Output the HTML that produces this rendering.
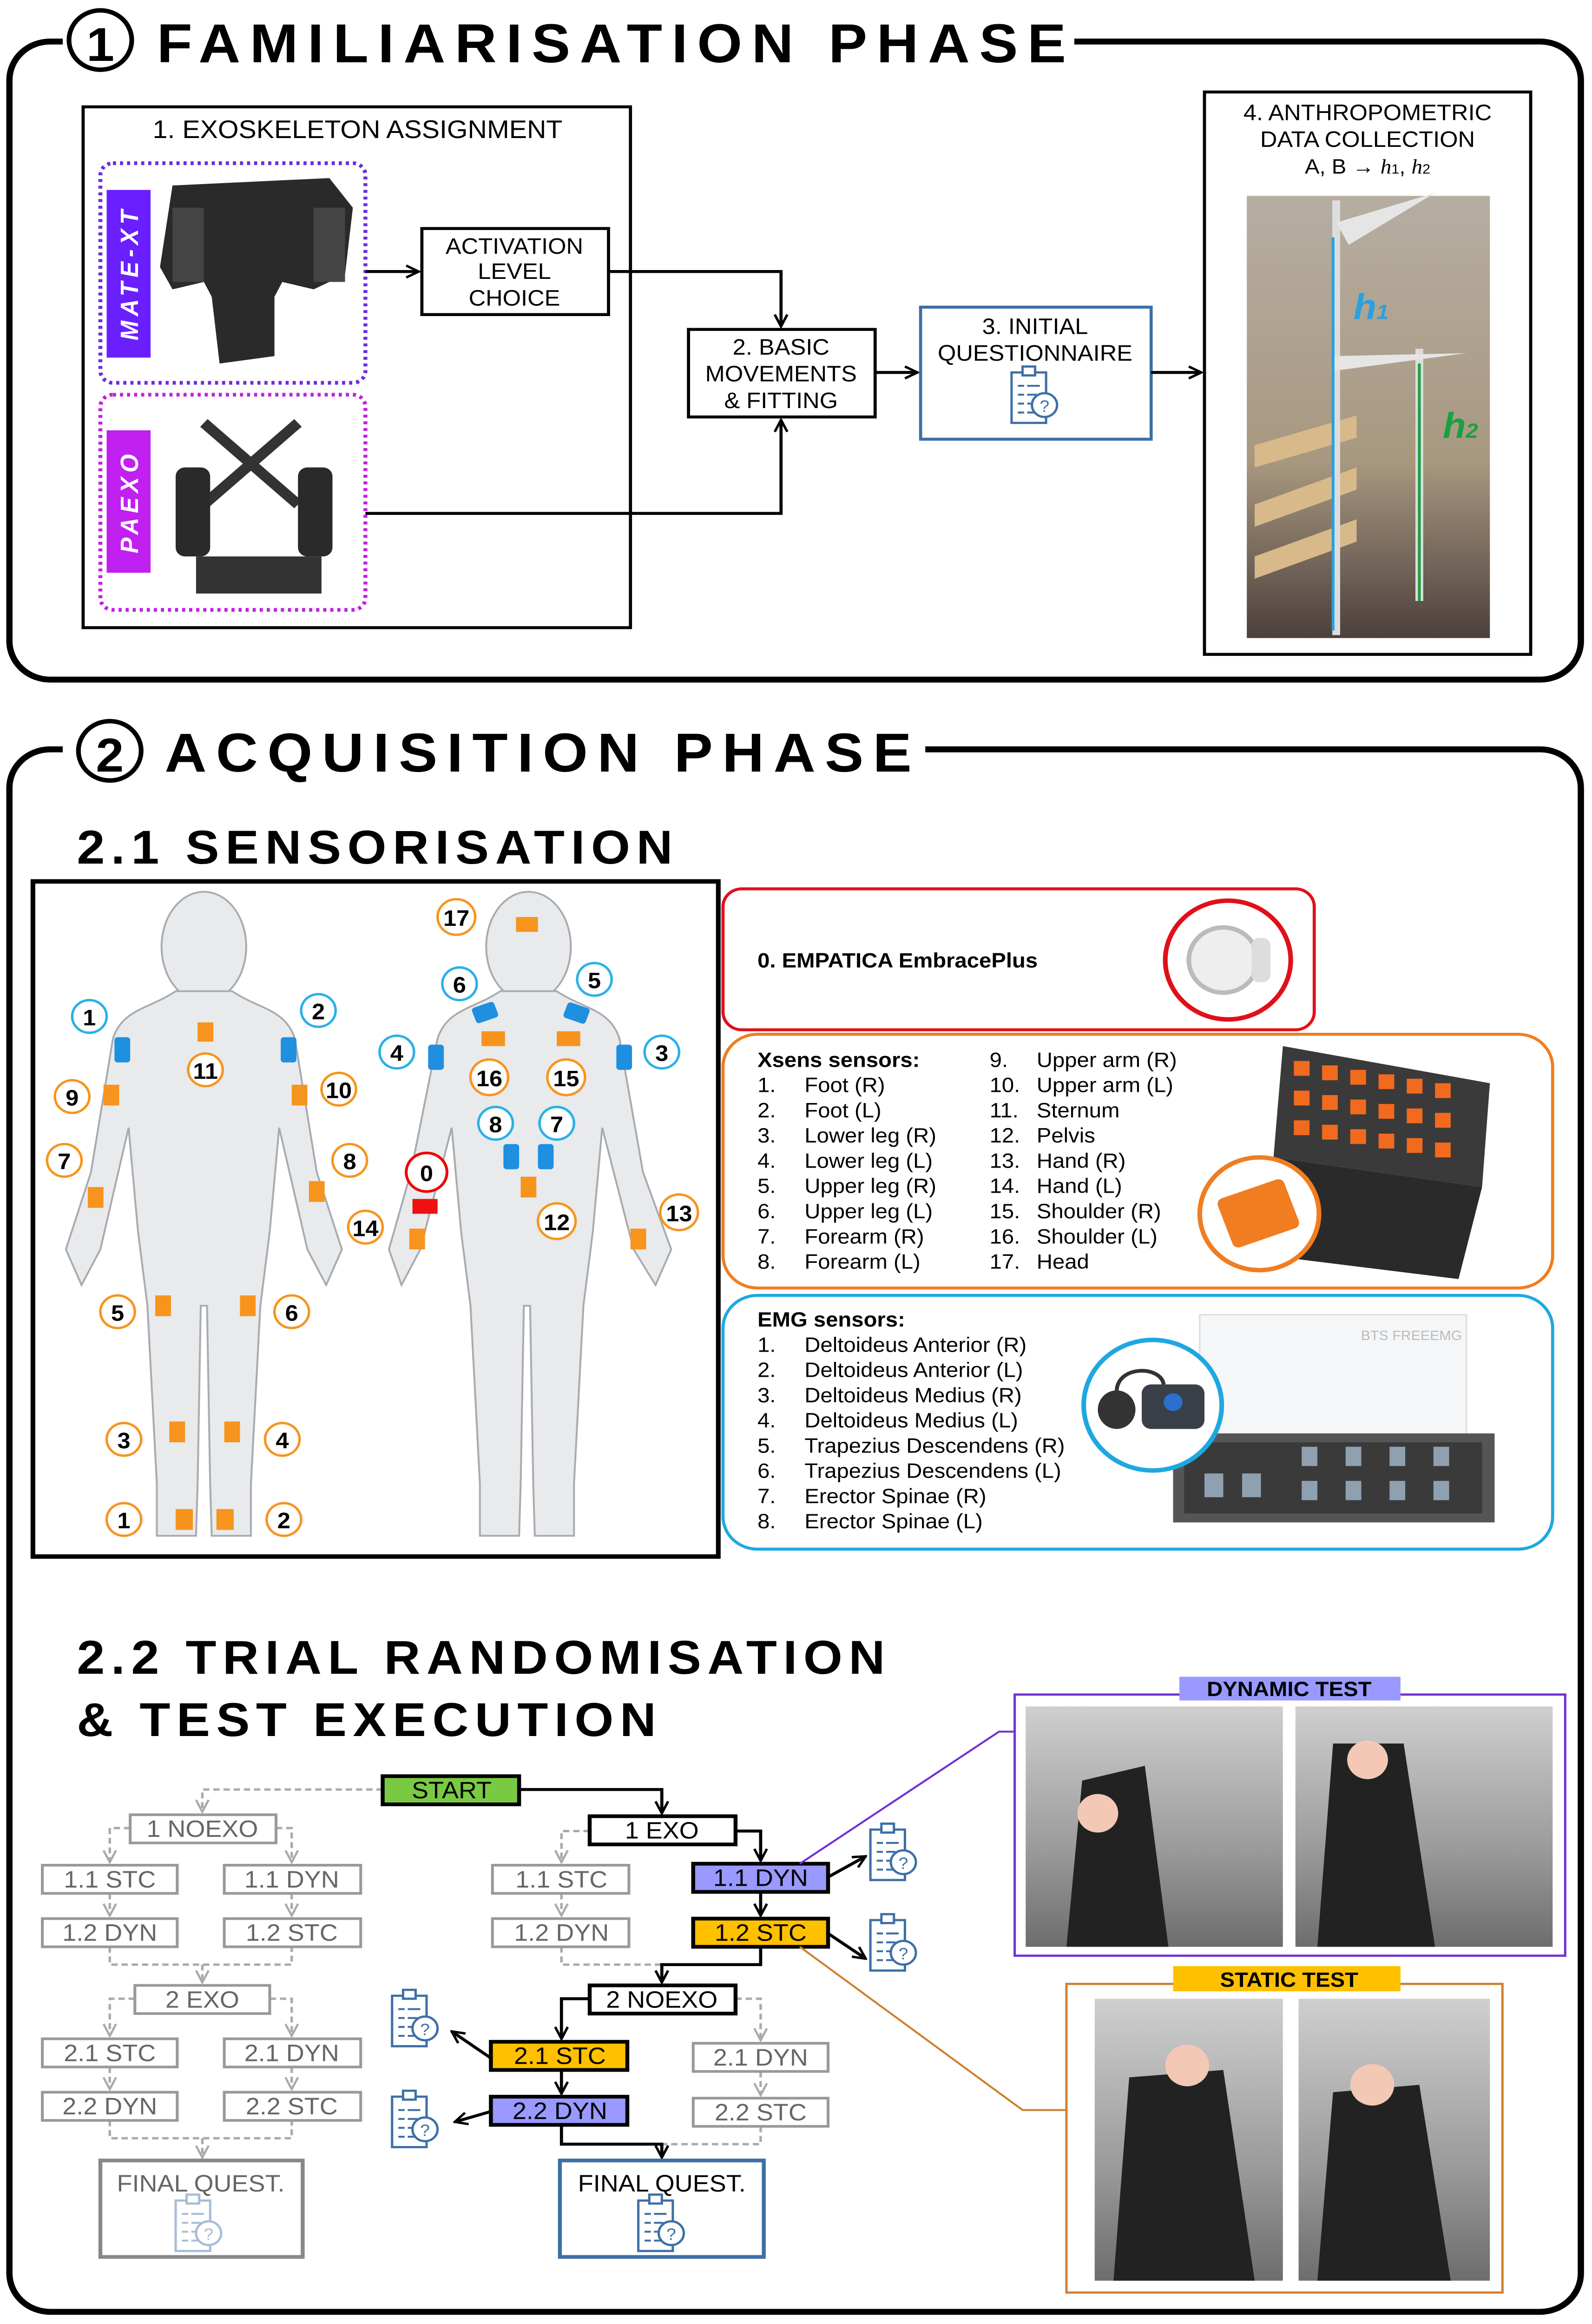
<!DOCTYPE html>
<html><head><meta charset="utf-8"><style>
html,body{margin:0;padding:0;background:#fff;width:100%;height:100%;overflow:hidden}
svg{display:block;position:absolute;left:0;top:0;width:100%;height:100%}
text{font-family:"Liberation Sans Narrow","Liberation Sans",sans-serif}
.t{font-family:"Liberation Sans",sans-serif;font-weight:bold}
</style></head><body>
<svg viewBox="0 0 1015.1 1566.2" preserveAspectRatio="none" xmlns="http://www.w3.org/2000/svg">
<defs>
<marker id="ab" markerWidth="10" markerHeight="10" refX="9" refY="5" orient="auto" markerUnits="userSpaceOnUse"><path d="M1,1 L9,5 L1,9" fill="none" stroke="#000" stroke-width="1.6"/></marker>
<marker id="ag" markerWidth="10" markerHeight="10" refX="9" refY="5" orient="auto" markerUnits="userSpaceOnUse"><path d="M1,1 L9,5 L1,9" fill="none" stroke="#aaa" stroke-width="1.4"/></marker>
<g id="clip">
<rect x="-13" y="-17" width="22" height="34" fill="#fff" stroke="#3d6fa6" stroke-width="1.5"/>
<rect x="-6" y="-21" width="8" height="6" fill="#fff" stroke="#3d6fa6" stroke-width="1.5"/>
<path d="M-9,-8h4M-3,-8h8M-9,-2h4M-3,-2h6M-9,4h4M-3,4h4M-9,10h4M-3,10h8" stroke="#3d6fa6" stroke-width="1.3"/>
<circle cx="8" cy="5" r="8" fill="#fff" stroke="#3d6fa6" stroke-width="1.5"/>
<text x="8" y="9.5" font-size="11" text-anchor="middle" fill="#3d6fa6">?</text>
</g>
<linearGradient id="ph" x1="0" y1="0" x2="0" y2="1"><stop offset="0" stop-color="#cfcfcf"/><stop offset="0.6" stop-color="#9a9a9a"/><stop offset="1" stop-color="#6d6d6d"/></linearGradient>
<linearGradient id="sh" x1="0" y1="0" x2="0" y2="1"><stop offset="0" stop-color="#b6ada2"/><stop offset="0.6" stop-color="#a89880"/><stop offset="1" stop-color="#4c403c"/></linearGradient>
</defs>

<rect x="6" y="28" width="1002" height="430" rx="26" fill="none" stroke="#000" stroke-width="4"/>
<rect x="40" y="4" width="645" height="46" fill="#fff"/>
<circle cx="64" cy="27" r="20" fill="#fff" stroke="#000" stroke-width="3"/>
<text x="64" y="41" class="t" font-size="32" text-anchor="middle">1</text>
<text x="100" y="42" class="t" font-size="37" letter-spacing="6">FAMILIARISATION PHASE</text>

<rect x="53" y="72" width="349" height="351" fill="none" stroke="#000" stroke-width="2"/>
<text x="228" y="93" font-size="17" text-anchor="middle">1. EXOSKELETON ASSIGNMENT</text>
<rect x="64" y="110" width="169" height="148" rx="8" fill="none" stroke="#6a2ce0" stroke-width="2.5" stroke-dasharray="2,2.5"/>
<rect x="68" y="128" width="28" height="113" fill="#6a1fff"/>
<text transform="translate(88,184) rotate(-90)" class="t" font-size="16" font-style="italic" fill="#fff" text-anchor="middle" letter-spacing="3">MATE-XT</text>
<path d="M110,125 L210,120 L225,140 L220,185 L200,195 L180,190 L175,200 L175,240 L140,245 L135,200 L130,190 L110,195 L102,180 Z" fill="#2a2a2a"/>
<rect x="110" y="140" width="20" height="50" fill="#444"/><rect x="200" y="140" width="20" height="50" fill="#444"/>
<rect x="64" y="266" width="169" height="145" rx="8" fill="none" stroke="#c020e0" stroke-width="2.5" stroke-dasharray="2,2.5"/>
<rect x="68" y="290" width="28" height="96" fill="#c020f0"/>
<text transform="translate(88,338) rotate(-90)" class="t" font-size="16" font-style="italic" fill="#fff" text-anchor="middle" letter-spacing="3">PAEXO</text>
<path d="M130,285 L190,340 M190,285 L130,340" stroke="#333" stroke-width="7"/>
<rect x="112" y="315" width="22" height="60" rx="6" fill="#2a2a2a"/><rect x="190" y="315" width="22" height="60" rx="6" fill="#2a2a2a"/>
<rect x="125" y="375" width="80" height="25" fill="#333"/>

<rect x="269" y="154" width="119" height="58" fill="#fff" stroke="#000" stroke-width="2"/>
<text x="328" y="171" font-size="15" text-anchor="middle">ACTIVATION</text>
<text x="328" y="188" font-size="15" text-anchor="middle">LEVEL</text>
<text x="328" y="206" font-size="15" text-anchor="middle">CHOICE</text>
<rect x="439" y="222" width="119" height="59" fill="#fff" stroke="#000" stroke-width="2"/>
<text x="498" y="239" font-size="15" text-anchor="middle">2. BASIC</text>
<text x="498" y="257" font-size="15" text-anchor="middle">MOVEMENTS</text>
<text x="498" y="275" font-size="15" text-anchor="middle">&amp; FITTING</text>
<rect x="587" y="207" width="147" height="89" fill="#fff" stroke="#3d6fa6" stroke-width="2"/>
<text x="660" y="225" font-size="15" text-anchor="middle">3. INITIAL</text>
<text x="660" y="243" font-size="15" text-anchor="middle">QUESTIONNAIRE</text>
<use href="#clip" x="658" y="268"/>

<path d="M233,183 H267" stroke="#000" stroke-width="2" marker-end="url(#ab)"/>
<path d="M388,183 H498 V220" fill="none" stroke="#000" stroke-width="2" marker-end="url(#ab)"/>
<path d="M233,346 H498 V283" fill="none" stroke="#000" stroke-width="2" marker-end="url(#ab)"/>
<path d="M558,251 H585" stroke="#000" stroke-width="2" marker-end="url(#ab)"/>
<path d="M734,251 H766" stroke="#000" stroke-width="2" marker-end="url(#ab)"/>

<rect x="768" y="62" width="208" height="379" fill="#fff" stroke="#000" stroke-width="2"/>
<text x="872" y="81" font-size="15" text-anchor="middle">4. ANTHROPOMETRIC</text>
<text x="872" y="99" font-size="15" text-anchor="middle">DATA COLLECTION</text>
<text x="872" y="117" font-size="14" text-anchor="middle">A, B → <tspan font-style="italic" font-family="Liberation Serif">h</tspan><tspan font-size="9">1</tspan>, <tspan font-style="italic" font-family="Liberation Serif">h</tspan><tspan font-size="9">2</tspan></text>
<rect x="795" y="132" width="155" height="298" fill="url(#sh)"/>
<path d="M800,340 L865,315 L865,330 L800,355Z M800,375 L865,350 L865,365 L800,390Z M800,300 L865,280 L865,295 L800,315Z" fill="#d8b98a"/>
<path d="M852,135 V428 M905,235 V405" stroke="#ddd" stroke-width="5"/>
<path d="M852,150 L915,130 L860,165Z M850,240 L935,238 L850,250Z" fill="#e5e5e5"/>
<path d="M850,160 V425" stroke="#29a0e0" stroke-width="1.8"/>
<path d="M905,245 V405" stroke="#19a040" stroke-width="1.8"/>
<text x="863" y="215" font-family="Liberation Serif" font-style="italic" font-weight="bold" font-size="24" fill="#29a0e0">h<tspan font-size="14">1</tspan></text>
<text x="920" y="295" font-family="Liberation Serif" font-style="italic" font-weight="bold" font-size="24" fill="#19a040">h<tspan font-size="14">2</tspan></text>

<rect x="6" y="505" width="1002" height="1053" rx="26" fill="none" stroke="#000" stroke-width="4"/>
<rect x="40" y="480" width="550" height="48" fill="#fff"/>
<circle cx="70" cy="506" r="20" fill="#fff" stroke="#000" stroke-width="3"/>
<text x="70" y="520" class="t" font-size="32" text-anchor="middle">2</text>
<text x="105" y="520" class="t" font-size="37" letter-spacing="6">ACQUISITION PHASE</text>
<text x="49" y="582" class="t" font-size="32" letter-spacing="4">2.1 SENSORISATION</text>

<rect x="21" y="594" width="437" height="455" fill="#fff" stroke="#000" stroke-width="3"/>
<g fill="#e8eaec" stroke="#a8acb0" stroke-width="1.2">
<ellipse cx="130" cy="638" rx="27" ry="37"/>
<path d="M112,668 C95,680 78,680 72,700 L58,790 L42,842 L52,866 L64,842 L82,760 L88,830 L94,880 L100,1000 L100,1035 L125,1035 L126,1000 L128,880 L132,880 L134,1000 L135,1035 L160,1035 L160,1000 L166,880 L172,830 L178,760 L196,842 L208,866 L218,842 L202,790 L188,700 C182,680 165,680 148,668 Z"/>
<ellipse cx="337" cy="638" rx="27" ry="37"/>
<path d="M319,668 C302,680 285,680 279,700 L262,790 L248,842 L256,866 L268,842 L288,760 L294,830 L300,880 L306,1000 L306,1035 L331,1035 L332,1000 L334,880 L338,880 L340,1000 L341,1035 L366,1035 L366,1000 L372,880 L378,830 L384,760 L404,842 L418,866 L428,842 L410,790 L395,700 C389,680 372,680 355,668 Z"/>
</g>
<g fill="#f7941d">
<rect x="126" y="689" width="10" height="13"/><rect x="66" y="731" width="10" height="14"/><rect x="186" y="731" width="10" height="14"/>
<rect x="56" y="800" width="10" height="14"/><rect x="197" y="796" width="10" height="14"/><rect x="99" y="873" width="10" height="14"/><rect x="153" y="873" width="10" height="14"/>
<rect x="108" y="958" width="10" height="14"/><rect x="143" y="958" width="10" height="14"/><rect x="112" y="1017" width="11" height="14"/><rect x="138" y="1017" width="11" height="14"/>
<rect x="329" y="618" width="14" height="10"/><rect x="307" y="695" width="15" height="10"/><rect x="355" y="695" width="15" height="10"/>
<rect x="332" y="793" width="10" height="14"/><rect x="261" y="828" width="10" height="14"/><rect x="402" y="828" width="10" height="14"/>
</g>
<g fill="#1f8fe0">
<rect x="73" y="699" width="10" height="17" rx="2"/><rect x="179" y="699" width="10" height="17" rx="2"/>
<rect x="302" y="677" width="15" height="11" rx="2" transform="rotate(-20 309 683)"/><rect x="360" y="677" width="15" height="11" rx="2" transform="rotate(20 367 683)"/>
<rect x="273" y="704" width="10" height="17" rx="2"/><rect x="393" y="704" width="10" height="17" rx="2"/>
<rect x="321" y="771" width="10" height="17" rx="2"/><rect x="343" y="771" width="10" height="17" rx="2"/>
</g>
<rect x="263" y="808" width="16" height="10" fill="#ee1111"/>
<g font-size="15" font-weight="bold" text-anchor="middle" font-family="Liberation Sans,sans-serif">
<g fill="#fff" stroke="#f7941d" stroke-width="1.6">
<circle cx="131" cy="721" r="11"/><circle cx="46" cy="739" r="11"/><circle cx="216" cy="734" r="11"/><circle cx="41" cy="782" r="11"/><circle cx="223" cy="782" r="11"/><circle cx="233" cy="827" r="11"/><circle cx="75" cy="884" r="11"/><circle cx="186" cy="884" r="11"/><circle cx="79" cy="970" r="11"/><circle cx="180" cy="970" r="11"/><circle cx="79" cy="1024" r="11"/><circle cx="181" cy="1024" r="11"/>
<circle cx="291" cy="618" r="12"/><circle cx="312" cy="726" r="12"/><circle cx="361" cy="726" r="12"/><circle cx="355" cy="823" r="12"/><circle cx="433" cy="817" r="12"/>
</g>
<g fill="#fff" stroke="#29b0e8" stroke-width="1.6">
<circle cx="57" cy="685" r="11"/><circle cx="203" cy="681" r="11"/><circle cx="293" cy="663" r="11"/><circle cx="379" cy="660" r="11"/><circle cx="253" cy="709" r="11"/><circle cx="422" cy="709" r="11"/><circle cx="316" cy="757" r="11"/><circle cx="355" cy="757" r="11"/>
</g>
<circle cx="272" cy="790" r="13" fill="#fff" stroke="#e00" stroke-width="1.8"/>
<text x="131" y="727">11</text><text x="46" y="745">9</text><text x="216" y="740">10</text><text x="41" y="788">7</text><text x="223" y="788">8</text><text x="233" y="833">14</text><text x="75" y="890">5</text><text x="186" y="890">6</text><text x="79" y="976">3</text><text x="180" y="976">4</text><text x="79" y="1030">1</text><text x="181" y="1030">2</text>
<text x="291" y="624">17</text><text x="312" y="732">16</text><text x="361" y="732">15</text><text x="355" y="829">12</text><text x="433" y="823">13</text>
<text x="57" y="691">1</text><text x="203" y="687">2</text><text x="293" y="669">6</text><text x="379" y="666">5</text><text x="253" y="715">4</text><text x="422" y="715">3</text><text x="316" y="763">8</text><text x="355" y="763">7</text><text x="272" y="796">0</text>
</g>

<rect x="461" y="599" width="377" height="95" rx="12" fill="#fff" stroke="#e0101a" stroke-width="2"/>
<text x="483" y="652" font-size="14" font-weight="bold" font-family="Liberation Sans,sans-serif">0. EMPATICA EmbracePlus</text>
<circle cx="783" cy="647" r="40" fill="#fff" stroke="#e0101a" stroke-width="3"/>
<circle cx="780" cy="647" r="22" fill="#eee" stroke="#bbb" stroke-width="3"/>
<rect x="798" y="632" width="12" height="30" rx="5" fill="#ddd"/>

<rect x="461" y="697" width="529" height="171" rx="22" fill="#fff" stroke="#f07d20" stroke-width="2"/>
<g font-size="14" font-family="Liberation Sans,sans-serif">
<text x="483" y="719" font-weight="bold">Xsens sensors:</text>
<text x="483" y="736">1.</text><text x="513" y="736">Foot (R)</text>
<text x="483" y="753">2.</text><text x="513" y="753">Foot (L)</text>
<text x="483" y="770">3.</text><text x="513" y="770">Lower leg (R)</text>
<text x="483" y="787">4.</text><text x="513" y="787">Lower leg (L)</text>
<text x="483" y="804">5.</text><text x="513" y="804">Upper leg (R)</text>
<text x="483" y="821">6.</text><text x="513" y="821">Upper leg (L)</text>
<text x="483" y="838">7.</text><text x="513" y="838">Forearm (R)</text>
<text x="483" y="855">8.</text><text x="513" y="855">Forearm (L)</text>
<text x="631" y="719">9.</text><text x="661" y="719">Upper arm (R)</text>
<text x="631" y="736">10.</text><text x="661" y="736">Upper arm (L)</text>
<text x="631" y="753">11.</text><text x="661" y="753">Sternum</text>
<text x="631" y="770">12.</text><text x="661" y="770">Pelvis</text>
<text x="631" y="787">13.</text><text x="661" y="787">Hand (R)</text>
<text x="631" y="804">14.</text><text x="661" y="804">Hand (L)</text>
<text x="631" y="821">15.</text><text x="661" y="821">Shoulder (R)</text>
<text x="631" y="838">16.</text><text x="661" y="838">Shoulder (L)</text>
<text x="631" y="855">17.</text><text x="661" y="855">Head</text>
</g>
<path d="M818,705 L950,730 L945,800 L812,780Z" fill="#3a3a3a"/>
<path d="M812,780 L945,800 L930,862 L800,845Z" fill="#2a2a2a"/>
<g fill="#f26a1e"><rect x="825" y="715" width="10" height="10"/><rect x="843" y="718" width="10" height="10"/><rect x="861" y="721" width="10" height="10"/><rect x="879" y="724" width="10" height="10"/><rect x="897" y="727" width="10" height="10"/><rect x="915" y="730" width="10" height="10"/>
<rect x="825" y="735" width="10" height="10"/><rect x="843" y="738" width="10" height="10"/><rect x="861" y="741" width="10" height="10"/><rect x="879" y="744" width="10" height="10"/><rect x="897" y="747" width="10" height="10"/><rect x="915" y="750" width="10" height="10"/>
<rect x="825" y="755" width="10" height="10"/><rect x="843" y="758" width="10" height="10"/><rect x="861" y="761" width="10" height="10"/><rect x="879" y="764" width="10" height="10"/><rect x="897" y="767" width="10" height="10"/><rect x="915" y="770" width="10" height="10"/></g>
<circle cx="803" cy="818" r="38" fill="#fff" stroke="#f07d20" stroke-width="3"/>
<rect x="780" y="800" width="45" height="35" rx="4" fill="#f07d20" transform="rotate(-20 803 818)"/>

<rect x="461" y="873" width="529" height="171" rx="22" fill="#fff" stroke="#1fa8e0" stroke-width="2"/>
<g font-size="14" font-family="Liberation Sans,sans-serif">
<text x="483" y="894" font-weight="bold">EMG sensors:</text>
<text x="483" y="911">1.</text><text x="513" y="911">Deltoideus Anterior (R)</text>
<text x="483" y="928">2.</text><text x="513" y="928">Deltoideus Anterior (L)</text>
<text x="483" y="945">3.</text><text x="513" y="945">Deltoideus Medius (R)</text>
<text x="483" y="962">4.</text><text x="513" y="962">Deltoideus Medius (L)</text>
<text x="483" y="979">5.</text><text x="513" y="979">Trapezius Descendens (R)</text>
<text x="483" y="996">6.</text><text x="513" y="996">Trapezius Descendens (L)</text>
<text x="483" y="1013">7.</text><text x="513" y="1013">Erector Spinae  (R)</text>
<text x="483" y="1030">8.</text><text x="513" y="1030">Erector Spinae  (L)</text>
</g>
<rect x="765" y="886" width="170" height="85" fill="#f4f6f8" stroke="#ddd"/>
<text x="900" y="903" font-size="9" fill="#bbb" text-anchor="middle">BTS FREEEMG</text>
<rect x="748" y="966" width="205" height="60" fill="#555"/>
<rect x="755" y="972" width="190" height="48" fill="#3a3a3a"/>
<g fill="#8fa0b0"><rect x="768" y="993" width="12" height="16"/><rect x="792" y="993" width="12" height="16"/>
<rect x="830" y="975" width="10" height="13"/><rect x="858" y="975" width="10" height="13"/><rect x="886" y="975" width="10" height="13"/><rect x="914" y="975" width="10" height="13"/>
<rect x="830" y="998" width="10" height="13"/><rect x="858" y="998" width="10" height="13"/><rect x="886" y="998" width="10" height="13"/><rect x="914" y="998" width="10" height="13"/></g>
<circle cx="735" cy="947" r="44" fill="#fff" stroke="#1fa8e0" stroke-width="3"/>
<ellipse cx="712" cy="950" rx="12" ry="13" fill="#333"/>
<rect x="728" y="933" width="40" height="30" rx="6" fill="#3a3f4a"/>
<circle cx="748" cy="945" r="6" fill="#2d6fd0"/>
<path d="M712,938 C712,920 740,920 742,933" fill="none" stroke="#333" stroke-width="2.5"/>

<text x="49" y="1128" class="t" font-size="32" letter-spacing="4">2.2 TRIAL RANDOMISATION</text>
<text x="49" y="1170" class="t" font-size="32" letter-spacing="4">&amp; TEST EXECUTION</text>

<g fill="none" stroke="#aaa" stroke-width="1.6" stroke-dasharray="4,2.5">
<path d="M244,1206 H129 V1221" marker-end="url(#ag)"/>
<path d="M83,1232 H70 V1255" marker-end="url(#ag)"/>
<path d="M176,1232 H186 V1255" marker-end="url(#ag)"/>
<path d="M70,1276 V1291" marker-end="url(#ag)"/>
<path d="M186,1276 V1291" marker-end="url(#ag)"/>
<path d="M70,1312 V1324 H186 V1312 M129,1324 V1336" marker-end="url(#ag)"/>
<path d="M86,1347 H70 V1372" marker-end="url(#ag)"/>
<path d="M172,1347 H186 V1372" marker-end="url(#ag)"/>
<path d="M70,1393 V1408" marker-end="url(#ag)"/>
<path d="M186,1393 V1408" marker-end="url(#ag)"/>
<path d="M70,1429 V1441 H186 V1429 M129,1441 V1454" marker-end="url(#ag)"/>
<path d="M376,1234 H358 V1255" marker-end="url(#ag)"/>
<path d="M358,1276 V1291" marker-end="url(#ag)"/>
<path d="M358,1312 V1324 H422"/>
<path d="M469,1347 H485 V1375" marker-end="url(#ag)"/>
<path d="M485,1396 V1412" marker-end="url(#ag)"/>
<path d="M485,1433 V1445 H422"/>
</g>
<g fill="none" stroke="#000" stroke-width="2">
<path d="M331,1206 H422 V1222" marker-end="url(#ab)"/>
<path d="M469,1234 H485 V1254" marker-end="url(#ab)"/>
<path d="M485,1275 V1291" marker-end="url(#ab)"/>
<path d="M485,1312 V1324 H422 V1336" marker-end="url(#ab)"/>
<path d="M376,1347 H358 V1374" marker-end="url(#ab)"/>
<path d="M358,1395 V1411" marker-end="url(#ab)"/>
<path d="M358,1432 V1445 H422 V1454" marker-end="url(#ab)"/>
<path d="M528,1265 L552,1251" marker-end="url(#ab)"/>
<path d="M528,1303 L552,1320" marker-end="url(#ab)"/>
<path d="M313,1387 L288,1369" marker-end="url(#ab)"/>
<path d="M313,1423 L290,1430" marker-end="url(#ab)"/>
</g>

<g font-size="16" text-anchor="middle">
<g fill="#fff" stroke="#999" stroke-width="1.8">
<rect x="83" y="1223" width="93" height="19"/><rect x="27" y="1257" width="86" height="19"/><rect x="143" y="1257" width="87" height="19"/>
<rect x="27" y="1293" width="86" height="19"/><rect x="143" y="1293" width="87" height="19"/><rect x="86" y="1338" width="86" height="19"/>
<rect x="27" y="1374" width="86" height="19"/><rect x="143" y="1374" width="87" height="19"/><rect x="27" y="1410" width="86" height="19"/><rect x="143" y="1410" width="87" height="19"/>
<rect x="314" y="1257" width="87" height="19"/><rect x="314" y="1293" width="87" height="19"/>
<rect x="442" y="1377" width="86" height="19"/><rect x="442" y="1414" width="86" height="19"/>
</g>
<g fill="#666">
<text x="129" y="1238">1 NOEXO</text><text x="70" y="1272">1.1 STC</text><text x="186" y="1272">1.1 DYN</text>
<text x="70" y="1308">1.2 DYN</text><text x="186" y="1308">1.2 STC</text><text x="129" y="1353">2 EXO</text>
<text x="70" y="1389">2.1 STC</text><text x="186" y="1389">2.1 DYN</text><text x="70" y="1425">2.2 DYN</text><text x="186" y="1425">2.2 STC</text>
<text x="358" y="1272">1.1 STC</text><text x="358" y="1308">1.2 DYN</text>
<text x="485" y="1392">2.1 DYN</text><text x="485" y="1429">2.2 STC</text>
</g>
<rect x="244" y="1197" width="87" height="19" fill="#7ac943" stroke="#000" stroke-width="2.5"/><text x="288" y="1212">START</text>
<rect x="376" y="1224" width="93" height="19" fill="#fff" stroke="#000" stroke-width="2.5"/><text x="422" y="1239">1 EXO</text>
<rect x="442" y="1256" width="86" height="19" fill="#9999ff" stroke="#000" stroke-width="2.5"/><text x="485" y="1271">1.1 DYN</text>
<rect x="442" y="1293" width="86" height="19" fill="#ffc000" stroke="#000" stroke-width="2.5"/><text x="485" y="1308">1.2 STC</text>
<rect x="376" y="1338" width="93" height="19" fill="#fff" stroke="#000" stroke-width="2.5"/><text x="422" y="1353">2 NOEXO</text>
<rect x="313" y="1376" width="87" height="19" fill="#ffc000" stroke="#000" stroke-width="2.5"/><text x="357" y="1391">2.1 STC</text>
<rect x="313" y="1413" width="87" height="19" fill="#9999ff" stroke="#000" stroke-width="2.5"/><text x="357" y="1428">2.2 DYN</text>
<rect x="64" y="1456" width="129" height="65" fill="#fff" stroke="#888" stroke-width="2.5"/><text x="128" y="1477" fill="#666">FINAL QUEST.</text>
<rect x="357" y="1456" width="130" height="65" fill="#fff" stroke="#3d6fa6" stroke-width="2.5"/><text x="422" y="1477">FINAL QUEST.</text>
</g>
<use href="#clip" x="125" y="1500" opacity="0.45"/>
<use href="#clip" x="420" y="1500"/>
<use href="#clip" x="568" y="1250"/>
<use href="#clip" x="568" y="1311"/>
<use href="#clip" x="263" y="1362"/>
<use href="#clip" x="263" y="1430"/>

<path d="M510,1256 L637,1167 H647" fill="none" stroke="#7030d0" stroke-width="1.3"/>
<path d="M510,1312 L652,1422 H680" fill="none" stroke="#d08030" stroke-width="1.3"/>
<rect x="647" y="1142" width="351" height="176" fill="#fff" stroke="#7030d0" stroke-width="1.5"/>
<rect x="654" y="1150" width="164" height="162" fill="url(#ph)"/>
<rect x="826" y="1150" width="164" height="162" fill="url(#ph)"/>
<path d="M690,1200 L730,1190 L745,1312 H680Z M850,1175 L895,1175 L915,1312 H840Z" fill="#222"/>
<circle cx="700" cy="1222" r="13" fill="#f3c8b4"/><circle cx="872" cy="1186" r="13" fill="#f3c8b4"/>
<rect x="752" y="1130" width="141" height="16" fill="#9999ff"/>
<text x="822" y="1143" class="t" font-size="14" text-anchor="middle">DYNAMIC TEST</text>
<rect x="680" y="1337" width="278" height="208" fill="#fff" stroke="#d08030" stroke-width="1.5"/>
<rect x="698" y="1347" width="120" height="190" fill="url(#ph)"/>
<rect x="828" y="1347" width="122" height="190" fill="url(#ph)"/>
<path d="M720,1400 L780,1395 L800,1537 H710Z M850,1410 L905,1405 L925,1537 H840Z" fill="#222"/>
<circle cx="757" cy="1392" r="14" fill="#f3c8b4"/><circle cx="875" cy="1405" r="14" fill="#f3c8b4"/>
<rect x="748" y="1325" width="145" height="17" fill="#ffc000"/>
<text x="822" y="1339" class="t" font-size="14" text-anchor="middle">STATIC TEST</text>
</svg>
</body></html>
